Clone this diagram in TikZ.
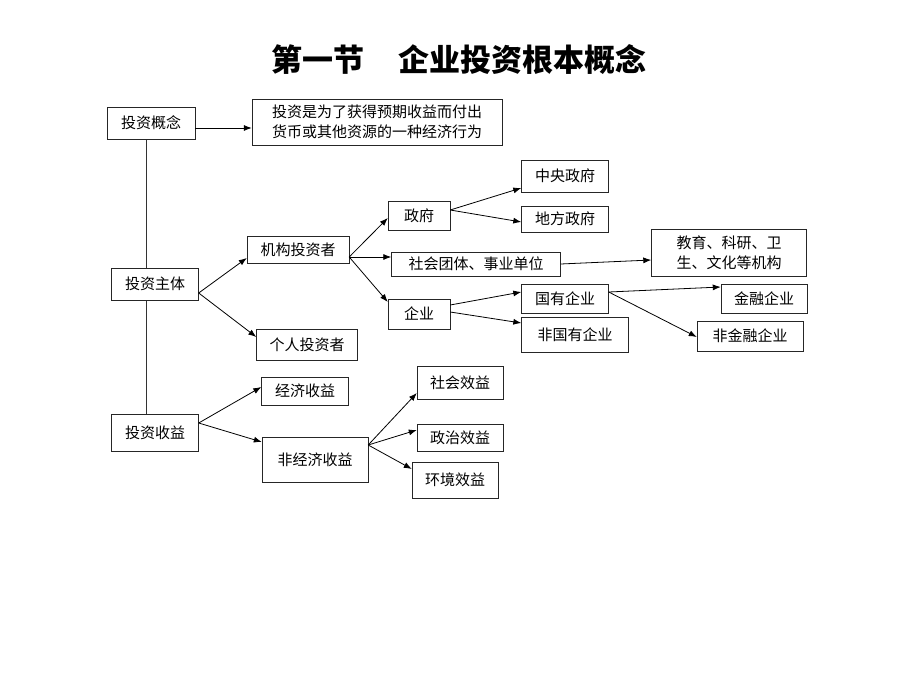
\documentclass[tikz,border=0pt]{standalone}
\usepackage{fontspec}
\setmainfont{Noto Sans CJK SC}
\usetikzlibrary{arrows.meta,backgrounds}
\begin{document}
\begin{tikzpicture}[x=1pt,y=-1pt]

    \tikzset{
      box/.style 2 args={
        draw=black!85,
        fill=white,
        inner sep=0pt,
        align=center,
        minimum width=#1,
        minimum height=#2,
        font=\fontsize{15}{20}\selectfont,
      },
      link/.style={
        draw=black,
        line width=0.8pt,
        -{Latex[length=8pt,width=6pt]},
      },
    }
    \useasboundingbox (0,0) rectangle (920,690);
    % title
    \node (title) [font=\fontsize{31}{36}\selectfont\bfseries] at (459,60) {第一节\hspace{34pt}企业投资根本概念};

    \node (gainian) [box={88pt}{32pt}] at (151,123) {投资概念};
    \node (dingyi) [box={250pt}{46pt}] at (377,122) {投资是为了获得预期收益而付出\\货币或其他资源的一种经济行为};

    \node (zhuti) [box={87pt}{32pt}] at (155,284) {投资主体};
    \node (jigou) [box={102pt}{27pt}] at (298,250) {机构投资者};
    \node (geren) [box={101pt}{31pt}] at (307,345) {个人投资者};
    \node (zhengfu) [box={62pt}{29pt}] at (419,216) {政府};
    \node (shetuan) [box={169pt}{24pt}] at (476,264) {社会团体、事业单位};
    \node (qiye) [box={62pt}{30pt}] at (419,314) {企业};
    \node (zhongyang) [box={87pt}{32pt}] at (565,176) {中央政府};
    \node (difang) [box={87pt}{26pt}] at (565,219) {地方政府};
    \node (jiaoyu) [box={155pt}{47pt}] at (729,253) {教育、科研、卫\\生、文化等机构};
    \node (guoyou) [box={87pt}{29pt}] at (565,299) {国有企业};
    \node (feiguoyou) [box={107pt}{35pt}] at (575,335) {非国有企业};
    \node (jinrong) [box={86pt}{29pt}] at (764,299) {金融企业};
    \node (feijinrong) [box={106pt}{30pt}] at (750,336) {非金融企业};

    \node (shouyi) [box={87pt}{37pt}] at (155,433) {投资收益};
    \node (jingji) [box={87pt}{28pt}] at (305,391) {经济收益};
    \node (feijingji) [box={106pt}{45pt}] at (315,460) {非经济收益};
    \node (shehui) [box={86pt}{33pt}] at (460,383) {社会效益};
    \node (zhengzhi) [box={86pt}{27pt}] at (460,438) {政治效益};
    \node (huanjing) [box={86pt}{36pt}] at (455,480) {环境效益};

    \begin{scope}[on background layer]
      \draw[black!80,line width=0.8pt] ([xshift=-5pt]gainian.south) -- ([xshift=-5pt]gainian.south |- shouyi.north);
    \end{scope}

    \draw[link] ([yshift=-5pt]gainian.east) -- ([yshift=-6pt]dingyi.west);
    \draw[link] ([yshift=-9pt]zhuti.east) -- ([yshift=-8pt]jigou.west);
    \draw[link] ([yshift=-9pt]zhuti.east) -- ([yshift=8pt]geren.west);
    \draw[link] ([yshift=-7pt]jigou.east) -- ([yshift=-2pt]zhengfu.west);
    \draw[link] ([yshift=-7pt]jigou.east) -- ([yshift=7pt]shetuan.west);
    \draw[link] ([yshift=-7pt]jigou.east) -- ([yshift=12pt]qiye.west);
    \draw[link] ([yshift=6pt]zhengfu.east) -- ([yshift=-12pt]zhongyang.west);
    \draw[link] ([yshift=6pt]zhengfu.east) -- ([yshift=-3pt]difang.west);
    \draw[link] (shetuan.east) -- ([yshift=-7pt]jiaoyu.west);
    \draw[link] ([yshift=9pt]qiye.east) -- ([yshift=7pt]guoyou.west);
    \draw[link] ([yshift=2pt]qiye.east) -- ([yshift=12pt]feiguoyou.west);
    \draw[link] ([yshift=7pt]guoyou.east) -- ([yshift=12pt]jinrong.west);
    \draw[link] ([yshift=7pt]guoyou.east) -- ([yshift=-1pt]feijinrong.west);
    \draw[link] ([yshift=10pt]shouyi.east) -- ([yshift=4pt]jingji.west);
    \draw[link] ([yshift=10pt]shouyi.east) -- ([yshift=18pt]feijingji.west);
    \draw[link] ([yshift=15pt]feijingji.east) -- ([yshift=-10pt]shehui.west);
    \draw[link] ([yshift=15pt]feijingji.east) -- ([yshift=8pt]zhengzhi.west);
    \draw[link] ([yshift=15pt]feijingji.east) -- ([yshift=11pt]huanjing.west);

\end{tikzpicture}
\end{document}
